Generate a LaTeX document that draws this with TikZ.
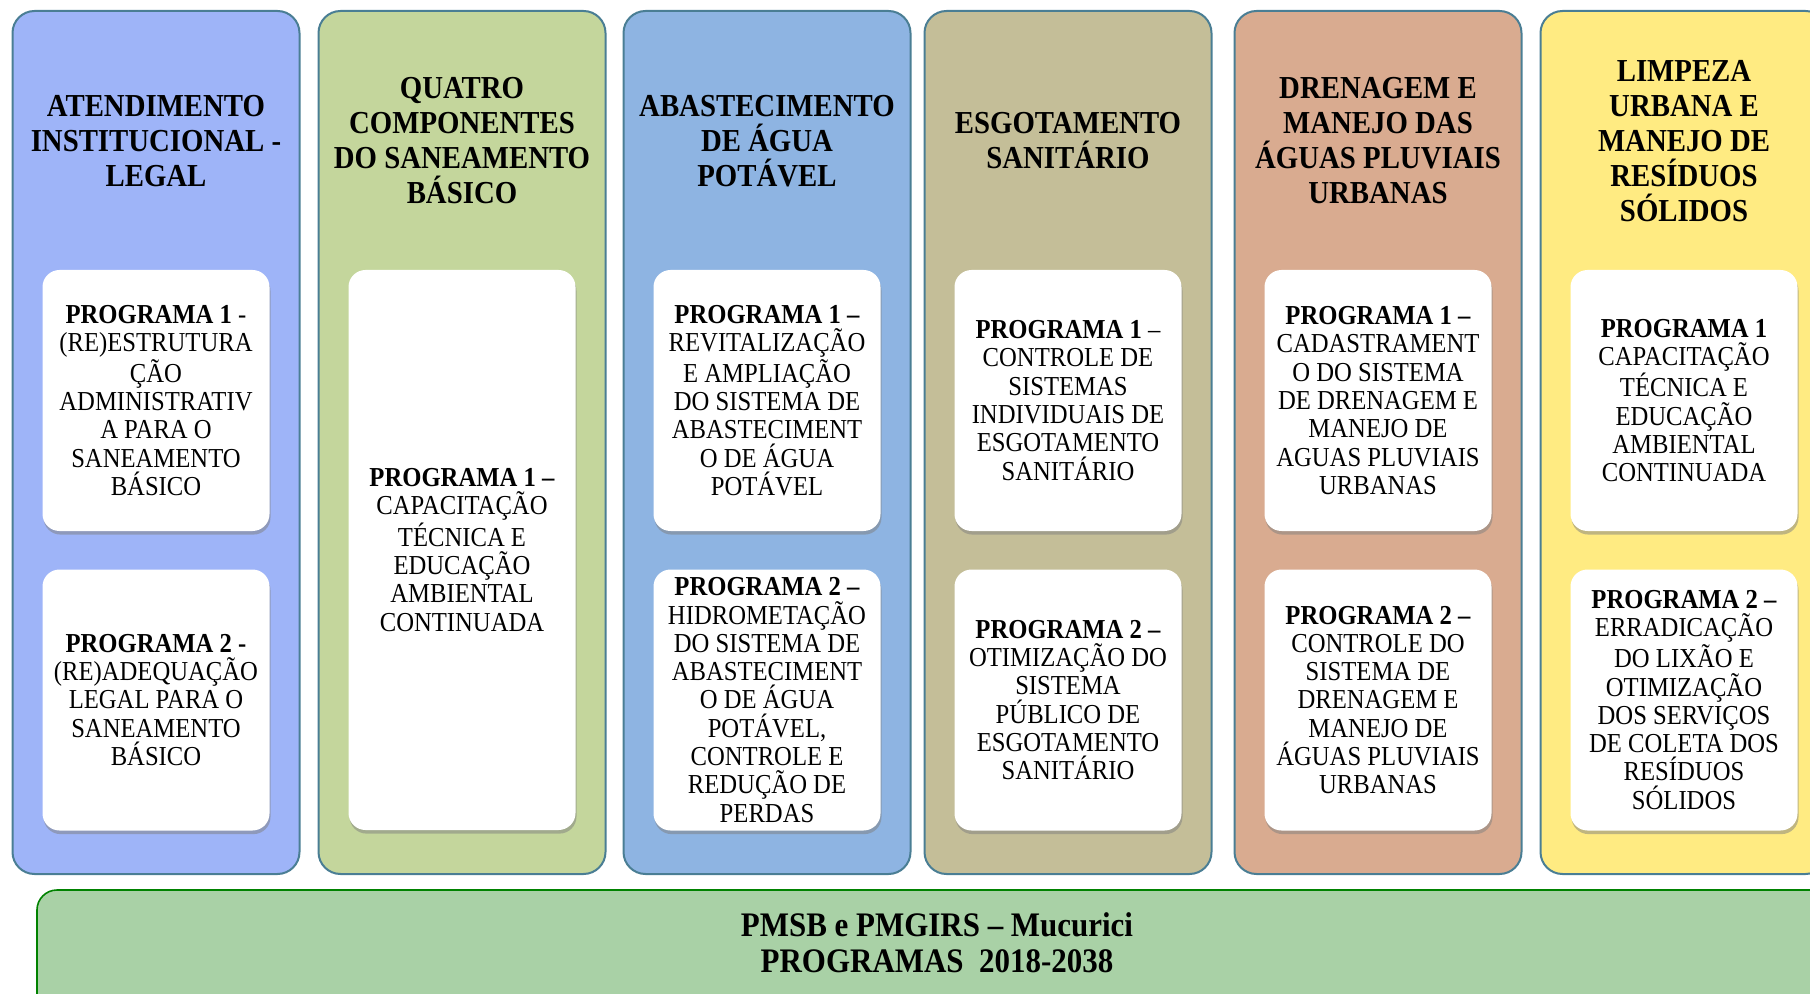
\documentclass[tikz,border=0pt]{standalone}
\usepackage{fontspec}
\setmainfont{Liberation Serif}[FakeStretch=0.9]
\usetikzlibrary{shadows}

\definecolor{colline}{RGB}{74,126,148}
\definecolor{fillinst}{RGB}{158,180,248}
\definecolor{fillquatro}{RGB}{196,214,156}
\definecolor{fillagua}{RGB}{142,180,226}
\definecolor{fillesgoto}{RGB}{196,190,152}
\definecolor{filldren}{RGB}{217,171,144}
\definecolor{filllimp}{RGB}{255,235,130}
\definecolor{basefill}{RGB}{169,209,166}
\definecolor{baseline}{RGB}{0,130,0}

\begin{document}
\begin{tikzpicture}[
x=0.5pt, y=-0.5pt,
column/.style={
draw=colline,
line width=1pt,
rounded corners=11pt,
minimum width=143.5pt,
minimum height=431.5pt,
inner sep=0pt
},
head/.style={
align=center,
font=\fontsize{16}{17.5}\selectfont\bfseries
},
prog/.style={
fill=white,
rounded corners=8.5pt,
minimum width=113.5pt,
minimum height=130.5pt,
inner sep=0pt,
align=center,
font=\fontsize{13.7}{14.15}\selectfont,
drop shadow={shadow xshift=0.5pt, shadow yshift=-1.8pt, opacity=0.5}
},
progtall/.style={prog, minimum height=280pt},
base/.style={
fill=basefill,
draw=baseline,
line width=0.8pt,
rounded corners=10pt,
minimum width=901.5pt,
minimum height=70pt,
inner sep=0pt
}
]

\useasboundingbox (0,0) rectangle (1810,994);
\clip (0,0) rectangle (1810,994);

% columns
\node[column, fill=fillinst]   (inst)   at (156,442.5)  {};
\node[column, fill=fillquatro] (quatro) at (462,442.5)  {};
\node[column, fill=fillagua]   (agua)   at (767,442.5)  {};
\node[column, fill=fillesgoto] (esgoto) at (1068,442.5) {};
\node[column, fill=filldren]   (dren)   at (1378,442.5) {};
\node[column, fill=filllimp]   (limp)   at (1684,442.5) {};

% headings
\node[head] (hinst)   at (156,141)  {ATENDIMENTO\\INSTITUCIONAL -\\LEGAL};
\node[head] (hquatro) at (462,141)  {QUATRO\\COMPONENTES\\DO SANEAMENTO\\BÁSICO};
\node[head] (hagua)   at (767,141)  {ABASTECIMENTO\\DE ÁGUA\\POTÁVEL};
\node[head] (hesgoto) at (1068,141) {ESGOTAMENTO\\SANITÁRIO};
\node[head] (hdren)   at (1378,141) {DRENAGEM E\\MANEJO DAS\\ÁGUAS PLUVIAIS\\URBANAS};
\node[head] (hlimp)   at (1684,141) {LIMPEZA\\URBANA E\\MANEJO DE\\RESÍDUOS\\SÓLIDOS};

% programas
\node[prog] (inst1) at (156,400.5) {\textbf{PROGRAMA 1} -\\(RE)ESTRUTURA\\ÇÃO\\ADMINISTRATIV\\A PARA O\\SANEAMENTO\\BÁSICO};
\node[prog] (inst2) at (156,700) {\textbf{PROGRAMA 2 -}\\(RE)ADEQUAÇÃO\\LEGAL PARA O\\SANEAMENTO\\BÁSICO};

\node[progtall] (quatro1) at (462,550) {\textbf{PROGRAMA 1 –}\\CAPACITAÇÃO\\TÉCNICA E\\EDUCAÇÃO\\AMBIENTAL\\CONTINUADA};

\node[prog] (agua1) at (767,400.5) {\textbf{PROGRAMA 1 –}\\REVITALIZAÇÃO\\E AMPLIAÇÃO\\DO SISTEMA DE\\ABASTECIMENT\\O DE ÁGUA\\POTÁVEL};
\node[prog] (agua2) at (767,700) {\textbf{PROGRAMA 2 –}\\HIDROMETAÇÃO\\DO SISTEMA DE\\ABASTECIMENT\\O DE ÁGUA\\POTÁVEL,\\CONTROLE E\\REDUÇÃO DE\\PERDAS};

\node[prog] (esgoto1) at (1068,400.5) {\textbf{PROGRAMA 1} –\\CONTROLE DE\\SISTEMAS\\INDIVIDUAIS DE\\ESGOTAMENTO\\SANITÁRIO};
\node[prog] (esgoto2) at (1068,700) {\textbf{PROGRAMA 2 –}\\OTIMIZAÇÃO DO\\SISTEMA\\PÚBLICO DE\\ESGOTAMENTO\\SANITÁRIO};

\node[prog] (dren1) at (1378,400.5) {\textbf{PROGRAMA 1 –}\\CADASTRAMENT\\O DO SISTEMA\\DE DRENAGEM E\\MANEJO DE\\AGUAS PLUVIAIS\\URBANAS};
\node[prog] (dren2) at (1378,700) {\textbf{PROGRAMA 2 –}\\CONTROLE DO\\SISTEMA DE\\DRENAGEM E\\MANEJO DE\\ÁGUAS PLUVIAIS\\URBANAS};

\node[prog] (limp1) at (1684,400.5) {\textbf{PROGRAMA 1}\\CAPACITAÇÃO\\TÉCNICA E\\EDUCAÇÃO\\AMBIENTAL\\CONTINUADA};
\node[prog] (limp2) at (1684,700) {\textbf{PROGRAMA 2 –}\\ERRADICAÇÃO\\DO LIXÃO E\\OTIMIZAÇÃO\\DOS SERVIÇOS\\DE COLETA DOS\\RESÍDUOS\\SÓLIDOS};

% base bar
\node[base] (base) at (938.5,960) {};
\node[align=center, font=\fontsize{17.2}{18}\selectfont\bfseries] (basetitle) at (937,942.5)
{PMSB e PMGIRS – Mucurici\\PROGRAMAS\ \ 2018-2038};

\end{tikzpicture}
\end{document}
